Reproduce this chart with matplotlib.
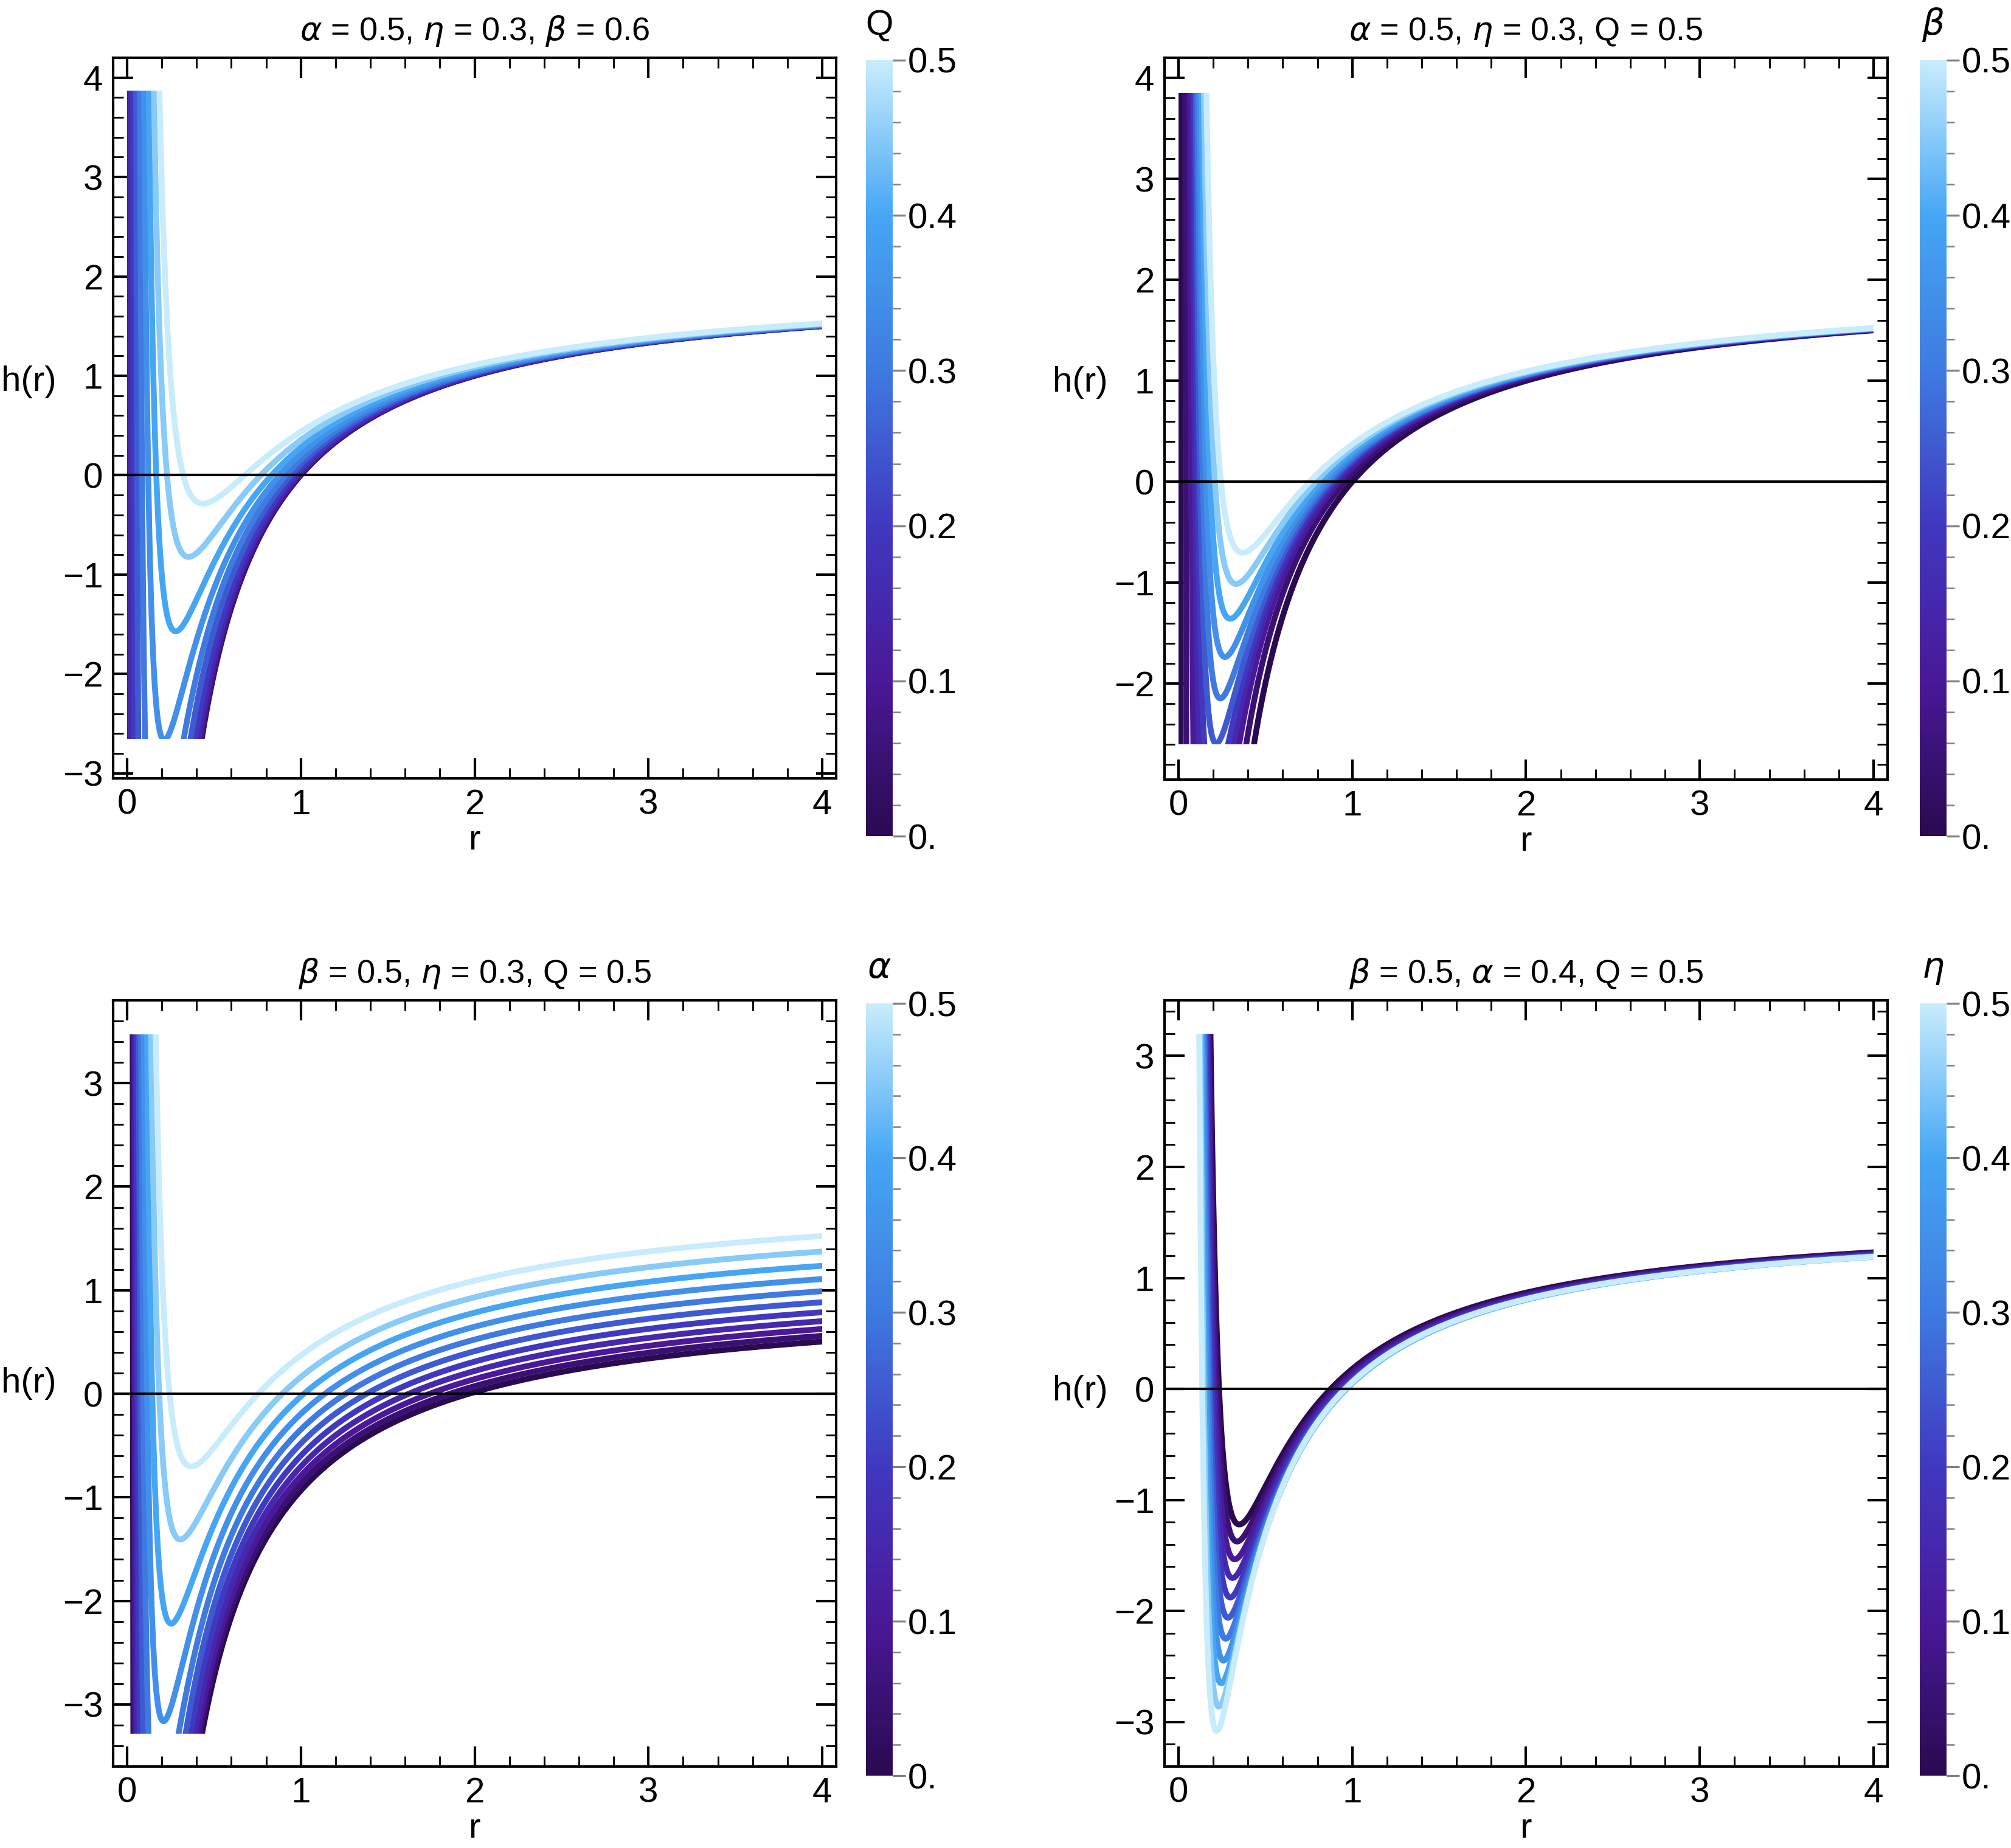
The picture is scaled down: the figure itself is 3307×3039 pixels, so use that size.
import numpy as np
import matplotlib
matplotlib.use("Agg")
import matplotlib.pyplot as plt
from matplotlib.colors import LinearSegmentedColormap, Normalize
from matplotlib.patches import Rectangle
from matplotlib.ticker import MultipleLocator, FixedLocator
import matplotlib.cm as cm

plt.rcParams['font.family'] = ['Liberation Sans', 'DejaVu Sans']
plt.rcParams['mathtext.fontset'] = 'dejavusans'

# parameter values swept in every panel (0 .. 0.5 in steps of 0.05)
sweep = np.round(np.arange(0, 0.501, 0.05), 2)

# colour map
cmap_colors = ["#2a0a50", "#4a1898", "#4038c0", "#3e7ae0", "#46a6f4", "#c8ecfc"]
cmap = LinearSegmentedColormap.from_list("deepsea", cmap_colors)

titles = [r"$\alpha$ = 0.5, $\eta$ = 0.3, $\beta$ = 0.6",
          r"$\alpha$ = 0.5, $\eta$ = 0.3, Q = 0.5",
          r"$\beta$ = 0.5, $\eta$ = 0.3, Q = 0.5",
          r"$\beta$ = 0.5, $\alpha$ = 0.4, Q = 0.5"]
cbar_labels = ["Q", r"$\beta$", r"$\alpha$", r"$\eta$"]
ylims = [(-3.05, 4.2), (-2.95, 4.2), (-3.6, 3.8), (-3.4, 3.5)]
clip_y = [(-2.65, 3.87), (-2.6, 3.85), (-3.28, 3.47), (-3.5, 3.2)]
yticks = [[-3, -2, -1, 0, 1, 2, 3, 4], [-2, -1, 0, 1, 2, 3, 4],
          [-3, -2, -1, 0, 1, 2, 3], [-3, -2, -1, 0, 1, 2, 3]]
ylabel_y = [0.55, 0.55, 0.5, 0.49]


def h_panel(k, p, r):
    # shape fitted to the curves
    tiny = 2e-6 / r**4
    if k == 0:
        c = 1.75 * p**2
        return 2 - 2 / r + c / r**2 + tiny
    if k == 1:
        c = 0.8 * p**2 + 0.17 * np.tanh(p / 0.1)
        return 2 - 2 / r + c / r**2 + tiny
    if k == 2:
        A = 1 + p + 2 * p**2
        c = 0.37 * (A / 2) ** 2.5
        return A - 2 / r + c / r**2 + tiny
    rmin = 0.35 - 0.26 * p
    hmin = -1.22 - 3 * p - 1.44 * p**2
    A = 1.6 - 0.05 * p
    B = 1.5 * (A - hmin) * rmin
    e = B * rmin**2 / 3
    return A - B / r + e / r**3


W, H = 3307, 3039
fig = plt.figure(figsize=(W / 300, H / 300), dpi=300)
axes_px = [(186, 95, 1375, 1280), (1915, 95, 3104, 1282),
           (186, 1645, 1375, 2905), (1915, 1645, 3104, 2905)]
cbar_px = [(1424, 99, 1468, 1375), (3157, 99, 3201, 1375),
           (1424, 1650, 1468, 2920), (3157, 1650, 3201, 2920)]

r = np.geomspace(0.005, 4, 6000)
norm = Normalize(0, 0.5)
for k in range(4):
    x0, y0, x1, y1 = axes_px[k]
    ax = fig.add_axes([x0 / W, 1 - y1 / H, (x1 - x0) / W, (y1 - y0) / H])
    rect = Rectangle((0, clip_y[k][0]), 4, clip_y[k][1] - clip_y[k][0],
                     transform=ax.transData, facecolor='none', edgecolor='none')
    ax.add_patch(rect)
    for p in sweep:
        ln, = ax.plot(r, h_panel(k, p, r), color=cmap(norm(p)), lw=2.3)
        ln.set_clip_path(rect)
    ax.axhline(0, color='black', lw=1.0)
    ax.set_xlim(-0.08, 4.08)
    ax.set_ylim(*ylims[k])
    ax.xaxis.set_major_locator(FixedLocator([0, 1, 2, 3, 4]))
    ax.xaxis.set_minor_locator(MultipleLocator(0.2))
    ax.yaxis.set_major_locator(FixedLocator(yticks[k]))
    ax.yaxis.set_minor_locator(MultipleLocator(0.2))
    ax.set_xticklabels(['0', '1', '2', '3', '4'])
    ax.set_yticklabels([str(v).replace('-', '\u2212') for v in yticks[k]])
    ax.tick_params(which='both', direction='in', top=True, right=True, labelsize=14, pad=4)
    ax.tick_params(which='major', length=8, width=1)
    ax.tick_params(which='minor', length=4, width=0.7)
    for s in ax.spines.values():
        s.set_linewidth(1.0)
    ax.set_xlabel("r", fontsize=14, labelpad=1)
    ax.set_ylabel("h(r)", fontsize=14, rotation=0, va='center', ha='center')
    ax.yaxis.set_label_coords(-0.117, ylabel_y[k])
    ax.set_title(titles[k], fontsize=13, pad=7)

    cx0, cy0, cx1, cy1 = cbar_px[k]
    cax = fig.add_axes([cx0 / W, 1 - cy1 / H, (cx1 - cx0) / W, (cy1 - cy0) / H])
    sm = cm.ScalarMappable(norm=norm, cmap=cmap)
    cb = fig.colorbar(sm, cax=cax)
    cb.outline.set_visible(False)
    cb.set_ticks([0, 0.1, 0.2, 0.3, 0.4, 0.5])
    cb.set_ticklabels(['0.', '0.1', '0.2', '0.3', '0.4', '0.5'])
    cb.ax.yaxis.set_minor_locator(MultipleLocator(0.02))
    cb.ax.tick_params(which='major', length=5, width=0.8, color='gray', labelsize=14, pad=1)
    cb.ax.tick_params(which='minor', length=3, width=0.6, color='gray')
    cax.set_title(cbar_labels[k], fontsize=14, pad=10)

fig.savefig("out.png", dpi=300)
